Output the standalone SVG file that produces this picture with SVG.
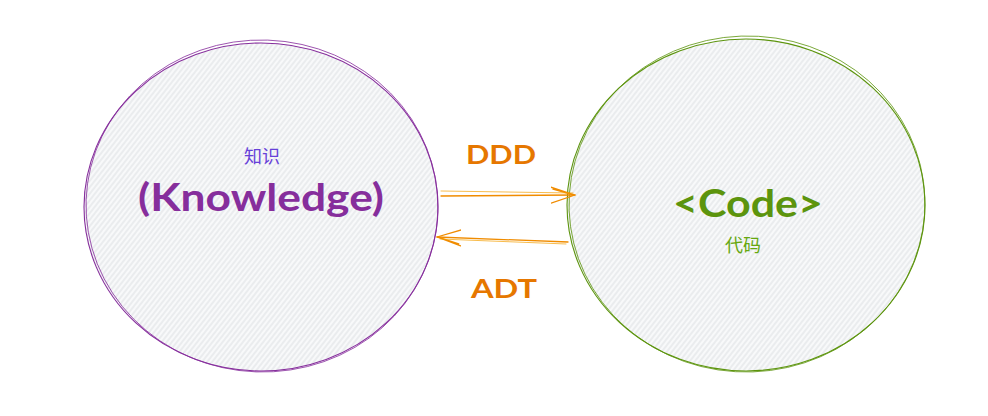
<svg xmlns="http://www.w3.org/2000/svg" width="988" height="416" viewBox="0 0 988 416">
<defs>
<pattern id="hatch" patternUnits="userSpaceOnUse" width="4" height="4" patternTransform="rotate(-52)">
<rect width="4" height="4" fill="#f8f9fa"/>
<line x1="0" y1="2" x2="4" y2="2" stroke="#dcdfe3" stroke-width="1"/>
</pattern>
<marker id="headR" viewBox="0 0 26 20" refX="24" refY="10" markerWidth="26" markerHeight="20" markerUnits="userSpaceOnUse" orient="auto">
<path d="M0,2 L24,10 M0,18 L24,10 M2,4 L23,10" fill="none" stroke="#f08c00" stroke-width="1.3" stroke-linecap="round"/>
</marker>
</defs>
<style>
.hand{font-family:"Lato","Noto Sans",sans-serif;font-weight:bold;text-anchor:middle}
.cjk{font-family:"Noto Sans CJK SC",sans-serif;text-anchor:middle;font-size:18px}
.edge{fill:none;stroke:#f08c00;stroke-width:1.3;stroke-linecap:round}
.edge2{fill:none;stroke:#f59f00;stroke-width:1;stroke-linecap:round;opacity:0.7}
</style>
<rect width="988" height="416" fill="#ffffff"/>
<g id="knowledge">
<ellipse cx="261" cy="207" rx="177" ry="164" fill="url(#hatch)"/>
<ellipse cx="261" cy="207" rx="177" ry="164" fill="none" stroke="#862e9c" stroke-width="1.1"/>
<ellipse cx="262" cy="206" rx="176" ry="166" fill="none" stroke="#862e9c" stroke-width="0.8" transform="rotate(2 262 206)"/>
<text class="cjk" x="262" y="163" fill="#6741d9">知识</text>
<text class="hand" x="261" y="211" font-size="38" fill="#862e9c" textLength="246" lengthAdjust="spacingAndGlyphs">(Knowledge)</text>
</g>
<g id="code">
<ellipse cx="746" cy="205" rx="179" ry="166" fill="url(#hatch)"/>
<ellipse cx="746" cy="205" rx="179" ry="166" fill="none" stroke="#5c940d" stroke-width="1.1"/>
<ellipse cx="747" cy="204" rx="178" ry="168" fill="none" stroke="#5c940d" stroke-width="0.8" transform="rotate(-2 747 204)"/>
<text class="hand" x="748" y="217" font-size="38" fill="#5c940d" textLength="150" lengthAdjust="spacingAndGlyphs">&lt;Code&gt;</text>
<text class="cjk" x="743" y="252" fill="#66a80f">代码</text>
</g>
<g id="connectors">
<line class="edge" x1="441" y1="196" x2="575" y2="195" marker-end="url(#headR)"/>
<line class="edge2" x1="441" y1="191" x2="573" y2="193"/>
<line class="edge" x1="568" y1="242" x2="437" y2="237" marker-end="url(#headR)"/>
<line class="edge2" x1="566" y1="244" x2="440" y2="239"/>
<text class="hand" x="501" y="164" font-size="27" fill="#e67700" textLength="70" lengthAdjust="spacingAndGlyphs">DDD</text>
<text class="hand" x="504" y="298" font-size="27" fill="#e67700" textLength="66" lengthAdjust="spacingAndGlyphs">ADT</text>
</g>
</svg>
